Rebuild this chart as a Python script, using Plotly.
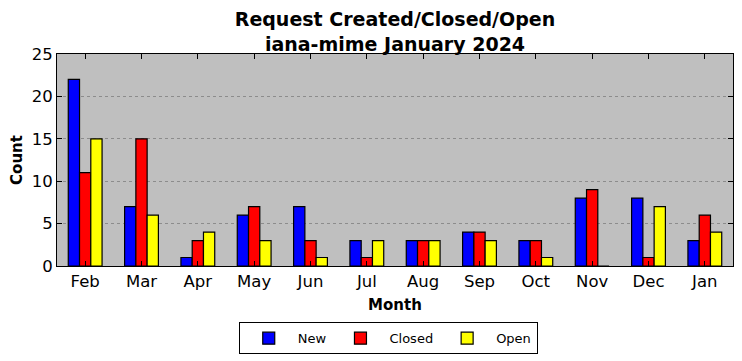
import plotly.graph_objects as go

months = ["Feb", "Mar", "Apr", "May", "Jun", "Jul", "Aug", "Sep", "Oct", "Nov", "Dec", "Jan"]
new_vals = [22, 7, 1, 6, 7, 3, 3, 4, 3, 8, 8, 3]
closed_vals = [11, 15, 3, 7, 3, 1, 3, 4, 3, 9, 1, 6]
open_vals = [15, 6, 4, 3, 1, 3, 3, 3, 1, 0, 7, 4]
y_ticks = [0, 5, 10, 15, 20, 25]

fig = go.Figure()
for name, vals, color in [("New", new_vals, "#0000ff"), ("Closed", closed_vals, "#ff0000"), ("Open", open_vals, "#ffff00")]:
    fig.add_trace(go.Bar(x=months, y=vals, name=name, marker=dict(color=color, line=dict(color="black", width=1.2))))

font = "DejaVu Sans"
fig.update_layout(
    width=742, height=361,
    margin=dict(l=49, r=17, t=46, b=103, autoexpand=False),
    paper_bgcolor="white", plot_bgcolor="#bfbfbf",
    barmode="group", bargap=0.4, bargroupgap=0,
    font=dict(family=font, color="black"),
    title=dict(text="<b>Request Created/Closed/Open<br>iana-mime January 2024</b>", x=(394 - 7) / 742, xanchor="center",
               yref="container", y=0.949, yanchor="middle", font=dict(size=19, family=font)),
    legend=dict(orientation="h", x=0.49, xanchor="center", y=-0.265, yanchor="top",
                bordercolor="black", borderwidth=1, bgcolor="white", font=dict(size=13, family=font),
                itemwidth=48, tracegroupgap=0),
    showlegend=True,
)
fig.update_xaxes(
    title=dict(text="<b>Month</b>", font=dict(size=15), standoff=9),
    tickfont=dict(size=16.5), ticks="inside", ticklen=5, tickcolor="black",
    showline=True, linecolor="black", linewidth=1, mirror="ticks", showgrid=False,
    range=[-0.5, 11.5], automargin=False,
)
fig.update_yaxes(
    title=dict(text="<b>Count</b>", font=dict(size=15), standoff=7),
    tickfont=dict(size=16.5), tickvals=y_ticks, ticks="inside", ticklen=5, tickcolor="black",
    showline=True, linecolor="black", linewidth=1, mirror="ticks",
    showgrid=True, gridcolor="#8c8c8c", griddash="dot", gridwidth=1,
    range=[0, 25], zeroline=False, automargin=False,
)
fig.write_html("out.html")
